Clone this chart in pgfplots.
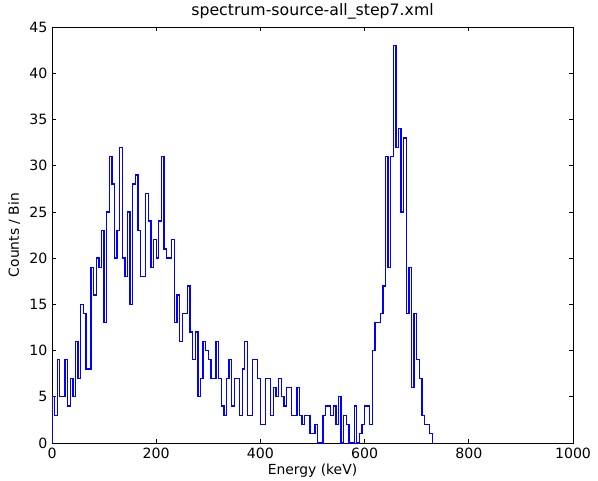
\documentclass[border=0pt]{standalone}
\usepackage{pgfplots}
\pgfplotsset{compat=1.18}
\usepackage{fontspec}
\setmainfont{DejaVu Sans}
\pgfplotstableread{
x y
0 0
0 5
5 3
10 9
15 5
20 5
25 9
30 4
35 7
40 5
45 11
50 7
55 15
60 14
65 8
70 8
75 19
80 16
85 20
90 19
95 23
100 13
105 25
110 31
115 28
120 20
125 23
130 32
135 20
140 18
145 25
150 15
155 28
160 29
165 23
170 18
175 18
180 27
185 24
190 19
195 22
200 20
205 24
210 31
215 21
220 20
225 20
230 22
235 13
240 16
245 11
250 14
255 14
260 17
265 12
270 9
275 12
280 5
285 7
290 11
295 10
300 9
305 7
310 7
315 11
320 7
325 4
330 3
335 7
340 9
345 4
350 7
355 7
360 3
365 8
370 11
375 3
380 3
385 9
390 9
395 7
400 2
405 2
410 7
415 7
420 3
425 6
430 5
435 7
440 5
445 4
450 6
455 6
460 3
465 3
470 6
475 3
480 2
485 3
490 3
495 1
500 1
505 2
510 0
515 0
520 3
525 4
530 4
535 3
540 4
545 2
550 5
555 0
560 3
565 2
570 0
575 0
580 4
585 0
590 1
595 2
600 4
605 4
610 2
615 10
620 13
625 13
630 14
635 17
640 31
645 19
650 31
655 43
660 32
665 34
670 25
675 33
680 14
685 19
690 6
695 14
700 9
705 7
710 3
715 2
720 2
725 1
730 0
}\spec
\begin{document}
\begin{tikzpicture}
\path[use as bounding box] (-39pt,-27.75pt) rectangle (409.5pt,332.25pt);
\begin{axis}[
  at={(0,0)}, anchor=south west,
  width=390.75pt, height=312pt, scale only axis,
  xmin=0, xmax=1000, ymin=0, ymax=45,
  xtick={0,200,400,600,800,1000},
  ytick={0,5,10,15,20,25,30,35,40,45},
  tick align=inside,
  major tick length=3pt,
  tick style={black, line width=0.5pt},
  axis line style={black, line width=0.75pt},
  tick label style={font=\fontsize{10.6}{12}\selectfont},
  /pgf/number format/assume math mode=true,
  /pgf/number format/1000 sep={},
  xlabel={Energy (keV)},
  ylabel={Counts / Bin},
  label style={font=\fontsize{10.4}{12}\selectfont},
  title={spectrum-source-all\_step7.xml},
  title style={font=\fontsize{11.8}{14}\selectfont, yshift=-4pt},
  xlabel style={yshift=3pt},
  ylabel style={yshift=0pt},
  clip=true,
]
\addplot[const plot, blue, line width=1pt] table[x=x, y=y] {\spec};
\end{axis}
\end{tikzpicture}
\end{document}
